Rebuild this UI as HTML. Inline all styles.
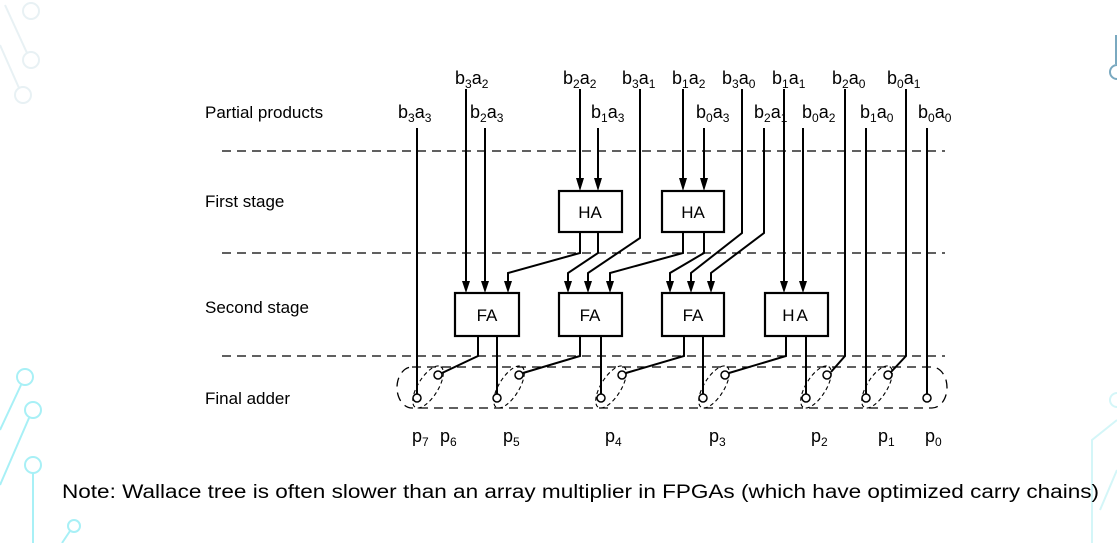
<!DOCTYPE html>
<html><head><meta charset="utf-8"><style>
html,body{margin:0;padding:0;background:#fff;}
svg{display:block;font-family:"Liberation Sans",Arial,sans-serif;}
</style></head><body>
<svg width="1117" height="543" viewBox="0 0 1117 543" xmlns="http://www.w3.org/2000/svg">
<!-- decorations -->
<g fill="none" stroke="#e8f1f4" stroke-width="2">
<circle cx="31" cy="11" r="8"/><circle cx="31" cy="60" r="8"/><circle cx="23" cy="95" r="8"/>
<line x1="5" y1="5" x2="27" y2="53"/><line x1="0" y1="45" x2="19" y2="88"/>
</g>
<g fill="none" stroke="#a8f0f6" stroke-width="2">
<circle cx="25" cy="377" r="8"/><circle cx="33" cy="410" r="8"/><circle cx="33" cy="465" r="8"/><circle cx="74" cy="526" r="6"/>
<line x1="21" y1="385" x2="0" y2="430"/><line x1="29" y1="418" x2="0" y2="485"/><line x1="33" y1="473" x2="33" y2="543"/><line x1="70" y1="531" x2="62" y2="543"/>
</g>
<g fill="none" stroke="#d4f6f8" stroke-width="2">
<circle cx="1117" cy="400" r="7"/>
<polyline points="1117,420 1092,440 1092,543"/><line x1="1117" y1="470" x2="1100" y2="510"/>
</g>
<g fill="none" stroke="#7aa9c0" stroke-width="2">
<circle cx="1117" cy="72" r="7"/><line x1="1116" y1="35" x2="1116" y2="64"/>
</g>

<!-- left labels -->
<g font-size="17" fill="#000">
<text x="205" y="118">Partial products</text>
<text x="205" y="207">First stage</text>
<text x="205" y="313">Second stage</text>
<text x="205" y="404">Final adder</text>
</g>

<!-- dashed stage lines -->
<g stroke="#000" stroke-width="1.3" stroke-dasharray="9,6" fill="none">
<line x1="222" y1="151" x2="945" y2="151"/>
<line x1="222" y1="253" x2="945" y2="253"/>
<line x1="222" y1="356" x2="945" y2="356"/>
<path d="M412,367 H932 A15,20.5 0 0 1 932,408 H412 A15,20.5 0 0 1 412,367 Z"/>
</g>

<!-- top labels -->
<g font-size="18" fill="#000">
<text x="455" y="84">b<tspan font-size="12" dy="4">3</tspan><tspan dy="-4">a</tspan><tspan font-size="12" dy="4">2</tspan></text>
<text x="563" y="84">b<tspan font-size="12" dy="4">2</tspan><tspan dy="-4">a</tspan><tspan font-size="12" dy="4">2</tspan></text>
<text x="622" y="84">b<tspan font-size="12" dy="4">3</tspan><tspan dy="-4">a</tspan><tspan font-size="12" dy="4">1</tspan></text>
<text x="672" y="84">b<tspan font-size="12" dy="4">1</tspan><tspan dy="-4">a</tspan><tspan font-size="12" dy="4">2</tspan></text>
<text x="722" y="84">b<tspan font-size="12" dy="4">3</tspan><tspan dy="-4">a</tspan><tspan font-size="12" dy="4">0</tspan></text>
<text x="772" y="84">b<tspan font-size="12" dy="4">1</tspan><tspan dy="-4">a</tspan><tspan font-size="12" dy="4">1</tspan></text>
<text x="832" y="84">b<tspan font-size="12" dy="4">2</tspan><tspan dy="-4">a</tspan><tspan font-size="12" dy="4">0</tspan></text>
<text x="887" y="84">b<tspan font-size="12" dy="4">0</tspan><tspan dy="-4">a</tspan><tspan font-size="12" dy="4">1</tspan></text>

<text x="398" y="118">b<tspan font-size="12" dy="4">3</tspan><tspan dy="-4">a</tspan><tspan font-size="12" dy="4">3</tspan></text>
<text x="470" y="118">b<tspan font-size="12" dy="4">2</tspan><tspan dy="-4">a</tspan><tspan font-size="12" dy="4">3</tspan></text>
<text x="591" y="118">b<tspan font-size="12" dy="4">1</tspan><tspan dy="-4">a</tspan><tspan font-size="12" dy="4">3</tspan></text>
<text x="696" y="118">b<tspan font-size="12" dy="4">0</tspan><tspan dy="-4">a</tspan><tspan font-size="12" dy="4">3</tspan></text>
<text x="754" y="118">b<tspan font-size="12" dy="4">2</tspan><tspan dy="-4">a</tspan><tspan font-size="12" dy="4">1</tspan></text>
<text x="802" y="118">b<tspan font-size="12" dy="4">0</tspan><tspan dy="-4">a</tspan><tspan font-size="12" dy="4">2</tspan></text>
<text x="860" y="118">b<tspan font-size="12" dy="4">1</tspan><tspan dy="-4">a</tspan><tspan font-size="12" dy="4">0</tspan></text>
<text x="918" y="118">b<tspan font-size="12" dy="4">0</tspan><tspan dy="-4">a</tspan><tspan font-size="12" dy="4">0</tspan></text>
</g>

<!-- wires -->
<g stroke="#000" stroke-width="2" fill="none">
<line x1="417" y1="128" x2="417" y2="394"/>
<line x1="466" y1="89" x2="466" y2="285"/>
<line x1="485" y1="128" x2="485" y2="285"/>
<line x1="580" y1="89" x2="580" y2="183"/>
<line x1="598" y1="128" x2="598" y2="183"/>
<polyline points="640,89 640,238 588,273 588,285"/>
<line x1="683" y1="89" x2="683" y2="183"/>
<line x1="704" y1="128" x2="704" y2="183"/>
<polyline points="742,89 742,233 691,273 691,285"/>
<polyline points="764,128 764,233 711,273 711,285"/>
<line x1="784" y1="89" x2="784" y2="285"/>
<line x1="803" y1="128" x2="803" y2="285"/>
<polyline points="845,89 845,356 831,372"/>
<line x1="866" y1="128" x2="866" y2="394"/>
<polyline points="906,89 906,356 891,372"/>
<line x1="927" y1="128" x2="927" y2="394"/>
<!-- HA outputs -->
<polyline points="580,232 580,253 508,273 508,285"/>
<polyline points="598,232 598,253 568,273 568,285"/>
<polyline points="683,232 683,253 610,273 610,285"/>
<polyline points="704,232 704,253 670,273 670,285"/>
<!-- FA outputs -->
<polyline points="478,336 478,356 442,373"/>
<line x1="497" y1="336" x2="497" y2="394"/>
<polyline points="580,336 580,356 523,373"/>
<line x1="601" y1="336" x2="601" y2="394"/>
<polyline points="684,336 684,356 626,373"/>
<line x1="703" y1="336" x2="703" y2="394"/>
<polyline points="786,336 786,356 729,373"/>
<line x1="806" y1="336" x2="806" y2="394"/>
</g>

<!-- arrowheads -->
<g fill="#000">
<polygon points="576,178 584,178 580,191"/><polygon points="594,178 602,178 598,191"/>
<polygon points="679,178 687,178 683,191"/><polygon points="700,178 708,178 704,191"/>
<polygon points="462,281 470,281 466,293"/><polygon points="481,281 489,281 485,293"/><polygon points="504,281 512,281 508,293"/>
<polygon points="564,281 572,281 568,293"/><polygon points="584,281 592,281 588,293"/><polygon points="606,281 614,281 610,293"/>
<polygon points="666,281 674,281 670,293"/><polygon points="687,281 695,281 691,293"/><polygon points="707,281 715,281 711,293"/>
<polygon points="780,281 788,281 784,293"/><polygon points="799,281 807,281 803,293"/>
</g>

<!-- boxes -->
<g stroke="#000" stroke-width="2.2" fill="#fff">
<rect x="559" y="191" width="63" height="41"/>
<rect x="662" y="191" width="62" height="41"/>
<rect x="455" y="293" width="64" height="43"/>
<rect x="559" y="293" width="63" height="43"/>
<rect x="662" y="293" width="62" height="43"/>
<rect x="765" y="293" width="63" height="43"/>
</g>
<g font-size="17" text-anchor="middle" fill="#000">
<text x="590" y="218">HA</text><text x="693" y="218">HA</text>
<text x="487" y="321">FA</text><text x="590" y="321">FA</text><text x="693" y="321">FA</text><text x="796" y="321" letter-spacing="2">HA</text>
</g>

<!-- small ellipses -->
<g stroke="#000" stroke-width="1.1" stroke-dasharray="4,3" fill="none">
<ellipse cx="428" cy="387" rx="24" ry="10" transform="rotate(-58 428 387)"/>
<ellipse cx="509" cy="387" rx="24" ry="10" transform="rotate(-58 509 387)"/>
<ellipse cx="611" cy="387" rx="24" ry="10" transform="rotate(-58 611 387)"/>
<ellipse cx="714" cy="387" rx="24" ry="10" transform="rotate(-58 714 387)"/>
<ellipse cx="816" cy="387" rx="24" ry="10" transform="rotate(-58 816 387)"/>
<ellipse cx="877" cy="387" rx="24" ry="10" transform="rotate(-58 877 387)"/>
</g>
<!-- circles -->
<g stroke="#000" stroke-width="1.5" fill="#fff">
<circle cx="417" cy="398" r="4"/><circle cx="438" cy="375" r="4"/>
<circle cx="497" cy="398" r="4"/><circle cx="519" cy="375" r="4"/>
<circle cx="601" cy="398" r="4"/><circle cx="622" cy="375" r="4"/>
<circle cx="703" cy="398" r="4"/><circle cx="725" cy="375" r="4"/>
<circle cx="806" cy="398" r="4"/><circle cx="827" cy="375" r="4"/>
<circle cx="866" cy="398" r="4"/><circle cx="888" cy="375" r="4"/>
<circle cx="927" cy="398" r="4"/>
</g>

<!-- p labels -->
<g font-size="18" fill="#000">
<text x="412" y="442">p<tspan font-size="12" dy="4">7</tspan></text>
<text x="440" y="442">p<tspan font-size="12" dy="4">6</tspan></text>
<text x="503" y="442">p<tspan font-size="12" dy="4">5</tspan></text>
<text x="605" y="442">p<tspan font-size="12" dy="4">4</tspan></text>
<text x="709" y="442">p<tspan font-size="12" dy="4">3</tspan></text>
<text x="811" y="442">p<tspan font-size="12" dy="4">2</tspan></text>
<text x="878" y="442">p<tspan font-size="12" dy="4">1</tspan></text>
<text x="925" y="442">p<tspan font-size="12" dy="4">0</tspan></text>
</g>

<text x="62" y="498" font-size="19" fill="#000" textLength="1037" lengthAdjust="spacingAndGlyphs">Note: Wallace tree is often slower than an array multiplier in FPGAs (which have optimized carry chains)</text>
</svg>
</body></html>
